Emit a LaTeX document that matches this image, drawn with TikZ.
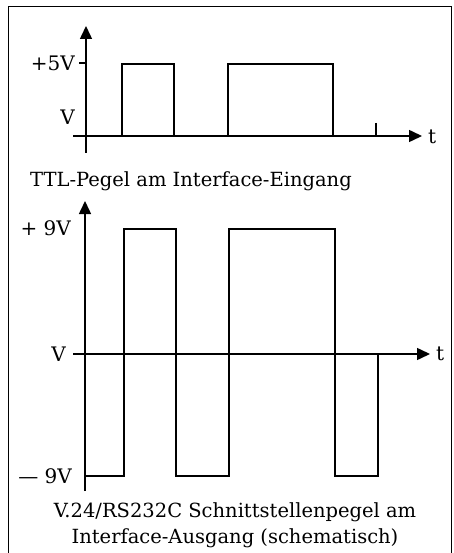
\documentclass[tikz,border=0pt]{standalone}
\usepackage{fontspec}
\setmainfont{DejaVu Serif}
\usetikzlibrary{arrows.meta}
\tikzstyle{axis} = [line width=1.5pt, -{Triangle[length=13pt,width=12pt]}]
\tikzstyle{signal} = [line width=1.3pt]
\tikzstyle{lbl} = [font=\fontsize{20}{22}\selectfont, inner sep=0pt]
\tikzstyle{caption} = [font=\fontsize{19.5}{26}\selectfont, align=center, inner sep=0pt]

\begin{document}
\begin{tikzpicture}[x=1pt,y=-1pt]
	\useasboundingbox (0,0) rectangle (453,553);
	\draw[line width=1pt] (8,553) -- (8,7) -- (451,7) -- (451,553);
	% TTL-Pegel
	\coordinate (ttlBot) at (86,153);
	\coordinate (ttlTop) at (86,26);
	\coordinate (ttlLeft) at (73,136);
	\coordinate (ttlRight) at (422,136);
	\draw[axis] (ttlBot) -- (ttlTop);
	\draw[axis] (ttlLeft) -- (ttlRight);
	\draw[signal] (79,63) -- (86,63);
	\draw[signal] (122,136) -- (122,64) -- (174,64) -- (174,136);
	\draw[signal] (228,136) -- (228,64) -- (333,64) -- (333,136);
	\draw[signal] (376,123) -- (376,136);
	\node[lbl, anchor=east] (ttlHigh) at (75,63) {+5V};
	\node[lbl, anchor=east] (ttlZero) at (75,117) {V};
	\node[lbl, anchor=west] (ttlT) at (428,137) {t};
	\node[caption] (ttlCap) at (191,181) {TTL-Pegel am Interface-Eingang};
	% V.24-Pegel
	\coordinate (rsBot) at (85,491);
	\coordinate (rsTop) at (85,201);
	\coordinate (rsLeft) at (73,354);
	\coordinate (rsRight) at (430,354);
	\draw[axis] (rsBot) -- (rsTop);
	\draw[axis] (rsLeft) -- (rsRight);
	\draw[signal] (85,476) -- (124,476) -- (124,229) -- (176,229) -- (176,476)
		-- (229,476) -- (229,229) -- (335,229) -- (335,476) -- (378,476) -- (378,354);
	\node[lbl, anchor=east] (rsHigh) at (71,228) {+ 9V};
	\node[lbl, anchor=east] (rsZero) at (66,354) {V};
	\node[lbl, anchor=west] (rsT) at (436,354) {t};
	\node[lbl, anchor=east] (rsLow) at (72,476) {— 9V};
	\node[caption] (rsCap) at (235,525) {V.24/RS232C Schnittstellenpegel am\\Interface-Ausgang (schematisch)};
\end{tikzpicture}
\end{document}
